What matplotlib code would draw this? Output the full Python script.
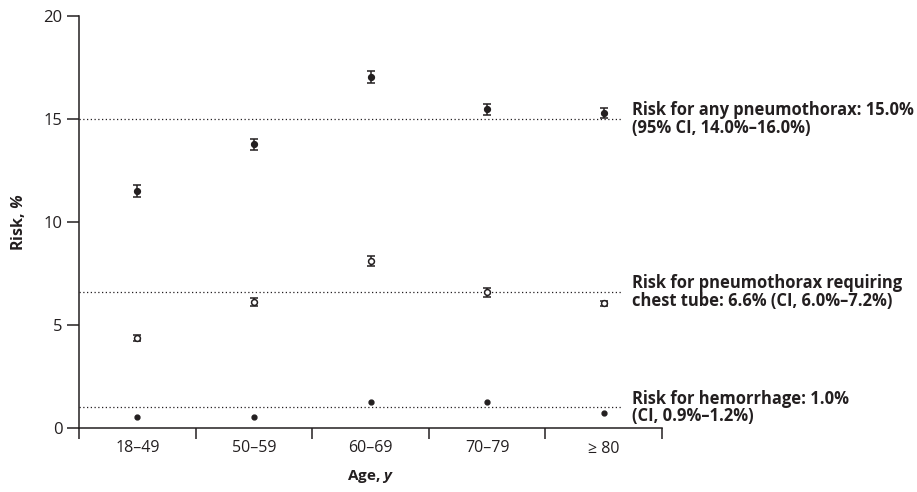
import matplotlib
matplotlib.use("Agg")
import matplotlib.pyplot as plt
import numpy as np

plt.rcParams['font.family'] = ['Open Sans', 'DejaVu Sans']
plt.rcParams['mathtext.fontset'] = 'custom'
plt.rcParams['mathtext.rm'] = 'Open Sans'
plt.rcParams['mathtext.it'] = 'Open Sans:italic'
plt.rcParams['mathtext.bf'] = 'Open Sans:bold'
plt.rcParams['mathtext.bfit'] = 'Open Sans:italic:bold'

categories = ["18–49", "50–59", "60–69", "70–79", "≥ 80"]
any_ptx = [11.5, 13.77, 17.05, 15.47, 15.3]
any_ptx_err = [0.3, 0.27, 0.3, 0.26, 0.23]
chest_tube = [4.35, 6.10, 8.12, 6.59, 6.05]
chest_tube_err = [0.15, 0.2, 0.25, 0.22, 0.13]
hemorrhage = [0.55, 0.55, 1.28, 1.25, 0.71]
ref_levels = [15.0, 6.6, 1.0]
ref_labels = ["Risk for any pneumothorax: 15.0%\n(95% CI, 14.0%–16.0%)",
              "Risk for pneumothorax requiring\nchest tube: 6.6% (CI, 6.0%–7.2%)",
              "Risk for hemorrhage: 1.0%\n(CI, 0.9%–1.2%)"]
yticks = [0, 5, 10, 15, 20]

C = "#231f20"
fig = plt.figure(figsize=(9.17, 4.92), dpi=100)
ax = fig.add_axes([79/917, 1-428/492, (662-79)/917, (428-16)/492])

x = np.arange(len(categories)) + 0.5
line_end = (622-79)/((662-79)/5)
text_x = (632-79)/((662-79)/5)

for lvl, lab in zip(ref_levels, ref_labels):
    ax.plot([0, line_end], [lvl, lvl], color=C, lw=0.9, ls=(0, (1, 2)), clip_on=False)
    ax.text(text_x, lvl, lab, ha='left', va='center', fontsize=11.9, fontweight='bold',
            color=C, linespacing=0.95, clip_on=False)

ax.errorbar(x, any_ptx, yerr=any_ptx_err, fmt='o', color=C, ms=4.2, mfc=C, mec=C,
            ecolor=C, elinewidth=1.1, capsize=3, capthick=1.1, zorder=3)
ax.errorbar(x, chest_tube, yerr=chest_tube_err, fmt='o', color=C, ms=4.2, mfc='white', mec=C,
            mew=1.1, ecolor=C, elinewidth=1.1, capsize=3, capthick=1.1, zorder=3)
ax.plot(x, hemorrhage, 'o', color=C, ms=3.5, zorder=3)

ax.set_xlim(0, 5)
ax.set_ylim(0, 20)
ax.set_yticks(yticks)
ax.set_xticks(np.arange(6))
ax.set_xticklabels([])
ax.set_xticks(x, minor=True)
ax.set_xticklabels(categories, minor=True)
ax.tick_params(axis='x', which='major', length=8, width=1.1, color=C, direction='out')
ax.tick_params(axis='x', which='minor', length=0, pad=9, labelsize=11.5, labelcolor=C)
ax.tick_params(axis='y', length=9, width=1.1, color=C, labelsize=12, labelcolor=C, pad=3)

for s in ['top', 'right']:
    ax.spines[s].set_visible(False)
for s in ['left', 'bottom']:
    ax.spines[s].set_color(C)
    ax.spines[s].set_linewidth(1.1)

ax.set_xlabel(r"Age, $\mathbfit{y}$", fontsize=11, fontweight='bold', color=C, labelpad=8)
ax.set_ylabel(r"Risk, $\mathbfit{\%}$", fontsize=11.5, fontweight='bold', color=C, labelpad=12)

fig.savefig("out.png", dpi=100)
